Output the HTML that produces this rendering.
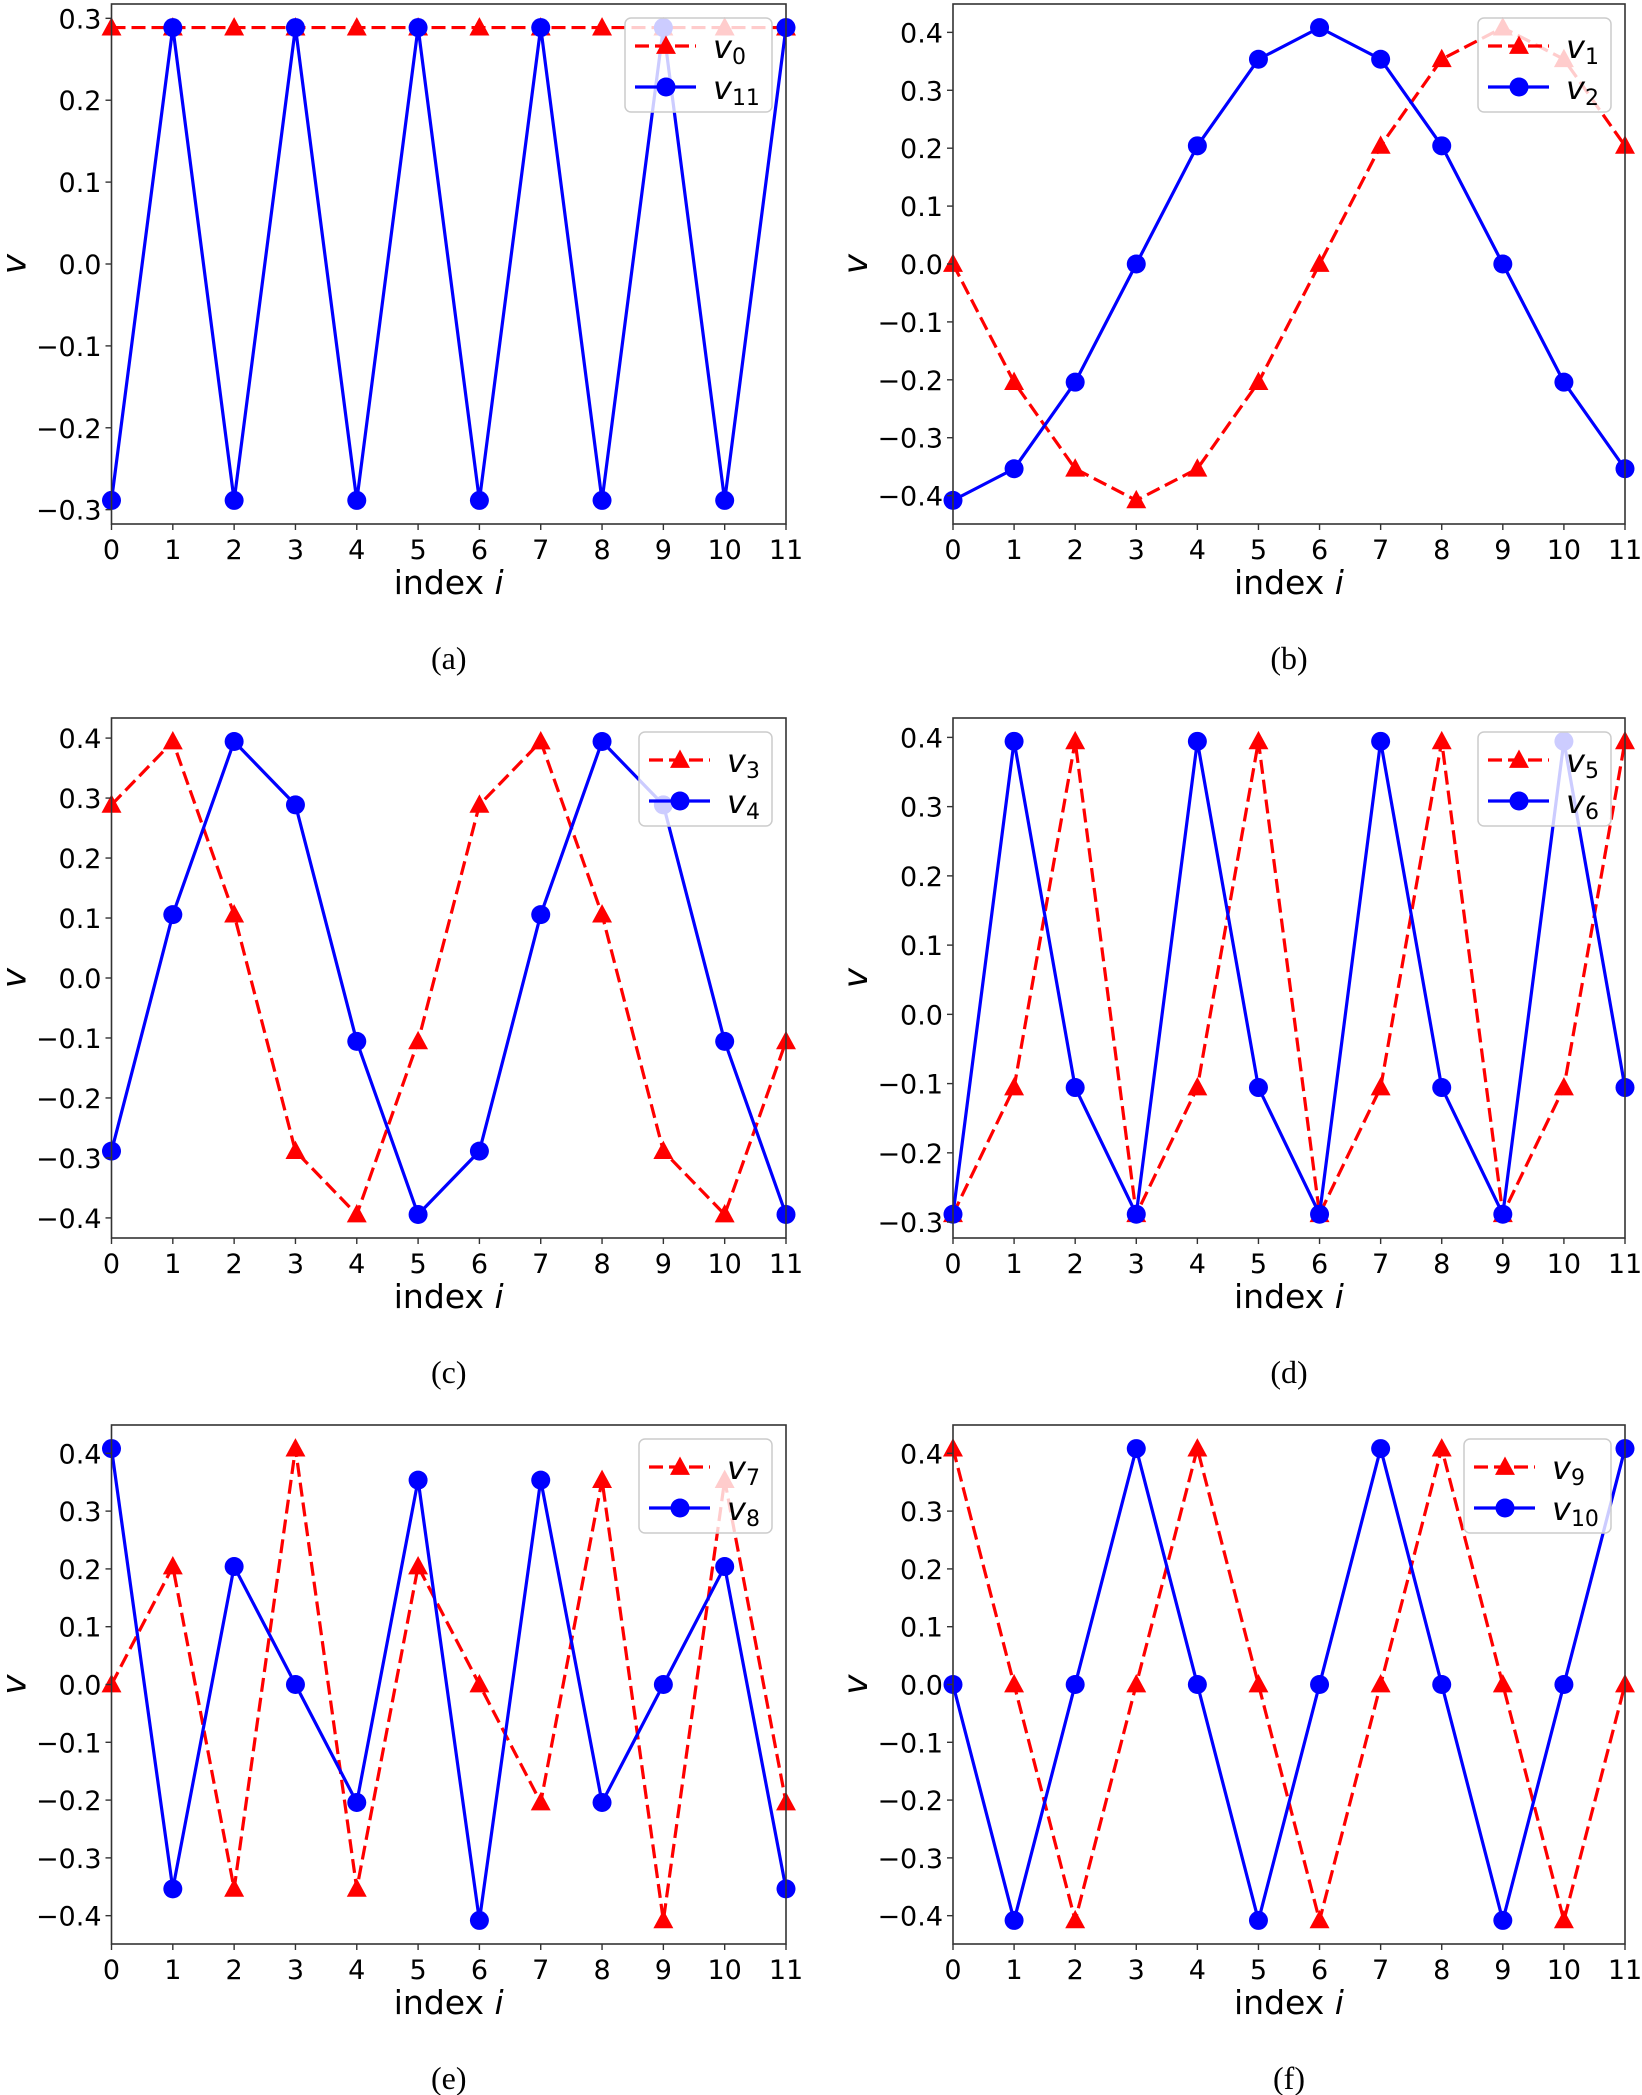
<!DOCTYPE html>
<html><head><meta charset="utf-8"><style>
body{margin:0;background:#fff;}
svg{display:block}
</style></head><body>
<svg id="s" xmlns="http://www.w3.org/2000/svg" width="1642" height="2095" viewBox="0 0 1642 2095"></svg>
<script>
const a=0.2887,b=0.4082,c=0.3536,d=0.2041,e=0.3943,f=0.1057;
const panels=[
 {x0:111.5,x1:786,y0:4,y1:524,lim:[-0.3175,0.3175],ticks:[-0.3,-0.2,-0.1,0,0.1,0.2,0.3],cap:"(a)",
  r:Array(12).fill(a),bl:[-a,a,-a,a,-a,a,-a,a,-a,a,-a,a],ln:["0","11"]},
 {x0:953,x1:1625,y0:4,y1:524,lim:[-0.449,0.449],ticks:[-0.4,-0.3,-0.2,-0.1,0,0.1,0.2,0.3,0.4],cap:"(b)",
  r:[0,-d,-c,-b,-c,-d,0,d,c,b,c,d],bl:[-b,-c,-d,0,d,c,b,c,d,0,-d,-c],ln:["1","2"]},
 {x0:111.5,x1:786,y0:718,y1:1238,lim:[-0.4335,0.4335],ticks:[-0.4,-0.3,-0.2,-0.1,0,0.1,0.2,0.3,0.4],cap:"(c)",
  r:[a,e,f,-a,-e,-f,a,e,f,-a,-e,-f],bl:[-a,f,e,a,-f,-e,-a,f,e,a,-f,-e],ln:["3","4"]},
 {x0:953,x1:1625,y0:718,y1:1238,lim:[-0.323,0.428],ticks:[-0.3,-0.2,-0.1,0,0.1,0.2,0.3,0.4],cap:"(d)",
  r:[-a,-f,e,-a,-f,e,-a,-f,e,-a,-f,e],bl:[-a,e,-f,-a,e,-f,-a,e,-f,-a,e,-f],ln:["5","6"]},
 {x0:111.5,x1:786,y0:1425,y1:1944,lim:[-0.449,0.449],ticks:[-0.4,-0.3,-0.2,-0.1,0,0.1,0.2,0.3,0.4],cap:"(e)",
  r:[0,d,-c,b,-c,d,0,-d,c,-b,c,-d],bl:[b,-c,d,0,-d,c,-b,c,-d,0,d,-c],ln:["7","8"]},
 {x0:953,x1:1625,y0:1425,y1:1944,lim:[-0.449,0.449],ticks:[-0.4,-0.3,-0.2,-0.1,0,0.1,0.2,0.3,0.4],cap:"(f)",
  r:[b,0,-b,0,b,0,-b,0,b,0,-b,0],bl:[0,-b,0,b,0,-b,0,b,0,-b,0,b],ln:["9","10"]}
];
let h='';
const F='font-family="DejaVu Sans, Liberation Sans, sans-serif"';
function tri(x,y){const s=10.5;return `<polygon points="${x},${y-s} ${x-s*0.95},${y+s*0.75} ${x+s*0.95},${y+s*0.75}" fill="#f00"/>`;}
function fmt(v){let s=Math.abs(v).toFixed(1);return (v<-1e-9?'\u2212':'')+s;}
for(const p of panels){
 const X=i=>p.x0+(p.x1-p.x0)*i/11;
 const Y=v=>p.y1-(p.y1-p.y0)*(v-p.lim[0])/(p.lim[1]-p.lim[0]);
 h+=`<svg x="${p.x0-12}" y="${p.y0-12}" width="${p.x1-p.x0+24}" height="${p.y1-p.y0+24}" viewBox="${p.x0-12} ${p.y0-12} ${p.x1-p.x0+24} ${p.y1-p.y0+24}"><g>`;
 let pr=p.r.map((v,i)=>X(i)+','+Y(v)).join(' ');
 let pb=p.bl.map((v,i)=>X(i)+','+Y(v)).join(' ');
 h+=`<polyline points="${pr}" fill="none" stroke="#f00" stroke-width="3.2" stroke-dasharray="14,6"/>`;
 p.r.forEach((v,i)=>h+=tri(X(i),Y(v)));
 h+=`<polyline points="${pb}" fill="none" stroke="#00f" stroke-width="3.2"/>`;
 p.bl.forEach((v,i)=>h+=`<circle cx="${X(i)}" cy="${Y(v)}" r="9.5" fill="#00f"/>`);
 h+=`</g></svg>`;
 const lw=p.ln[1].length>1||p.ln[0].length>1?147:133;
 const lx=p.x1-14-lw, ly=p.y0+14;
 h+=`<rect x="${lx}" y="${ly}" width="${lw}" height="94" rx="6" fill="#fff" fill-opacity="0.8" stroke="#ccc" stroke-width="1.5"/>`;
 h+=`<line x1="${lx+10}" y1="${ly+28}" x2="${lx+71}" y2="${ly+28}" stroke="#f00" stroke-width="3.2" stroke-dasharray="14,6"/>`+tri(lx+41,ly+28);
 h+=`<line x1="${lx+10}" y1="${ly+69}" x2="${lx+71}" y2="${ly+69}" stroke="#00f" stroke-width="3.2"/><circle cx="${lx+41}" cy="${ly+69}" r="9.5" fill="#00f"/>`;
 h+=`<text x="${lx+88}" y="${ly+40}" ${F} font-size="32" font-style="italic">v<tspan font-style="normal" font-size="22" dy="6">${p.ln[0]}</tspan></text>`;
 h+=`<text x="${lx+88}" y="${ly+81}" ${F} font-size="32" font-style="italic">v<tspan font-style="normal" font-size="22" dy="6">${p.ln[1]}</tspan></text>`;
 h+=`<rect x="${p.x0}" y="${p.y0}" width="${p.x1-p.x0}" height="${p.y1-p.y0}" fill="none" stroke="#333" stroke-width="1.6"/>`;
 for(let i=0;i<=11;i++){h+=`<line x1="${X(i)}" y1="${p.y1}" x2="${X(i)}" y2="${p.y1+6}" stroke="#333" stroke-width="1.4"/><text x="${X(i)}" y="${p.y1+35}" ${F} font-size="27" text-anchor="middle">${i}</text>`;}
 for(const t of p.ticks){h+=`<line x1="${p.x0-6}" y1="${Y(t)}" x2="${p.x0}" y2="${Y(t)}" stroke="#333" stroke-width="1.4"/><text x="${p.x0-10}" y="${Y(t)+10}" ${F} font-size="27" text-anchor="end">${fmt(t)}</text>`;}
 const cx=(p.x0+p.x1)/2, cy=(p.y0+p.y1)/2;
 h+=`<text x="${cx}" y="${p.y1+70}" ${F} font-size="33" text-anchor="middle">index <tspan font-style="italic">i</tspan></text>`;
 h+=`<text transform="translate(${p.x0-86},${cy}) rotate(-90)" ${F} font-size="34" font-style="italic" text-anchor="middle">v</text>`;
 h+=`<text x="${cx}" y="${p.y1+145}" font-family="Liberation Serif, serif" font-size="32" text-anchor="middle">${p.cap}</text>`;
}
document.getElementById('s').innerHTML=h;
</script>
</body></html>
